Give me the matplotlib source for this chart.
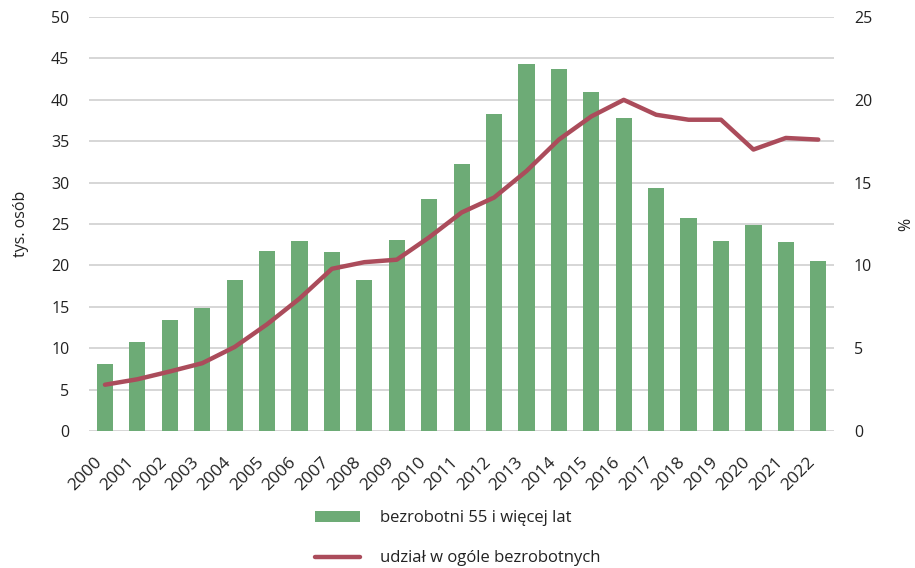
import matplotlib.pyplot as plt
import matplotlib.transforms as mtransforms
import numpy as np

plt.rcParams['font.family'] = ['Open Sans', 'DejaVu Sans']

years = [str(y) for y in range(2000, 2023)]
bezrobotni = [8.1, 10.8, 13.4, 14.9, 18.2, 21.7, 23.0, 21.6, 18.2, 23.1, 28.0,
              32.3, 38.3, 44.3, 43.7, 41.0, 37.8, 29.4, 25.7, 23.0, 24.9, 22.8, 20.5]
udzial = [2.8, 3.13, 3.6, 4.1, 5.08, 6.45, 8.0, 9.8, 10.2, 10.35, 11.7,
          13.2, 14.1, 15.7, 17.6, 19.0, 20.0, 19.1, 18.8, 18.8, 17.0, 17.7, 17.6]

green = '#6dab76'
red = '#ab4c5b'
grid_c = '#cfcfcf'
text_c = '#222222'

fig = plt.figure(figsize=(9.15, 5.68), dpi=100)
ax = fig.add_axes([0.097, 0.241, 0.815, 0.729])
ax2 = ax.twinx()

x = np.arange(len(years))
ax.bar(x, bezrobotni, width=0.5, color=green, label='bezrobotni 55 i więcej lat', zorder=2)
ax2.plot(x, udzial, color=red, lw=3.2, solid_capstyle='round',
         label='udział w ogóle bezrobotnych', zorder=3)

ax.set_xlim(-0.5, len(years) - 0.5)
ax.set_ylim(0, 50)
ax2.set_ylim(0, 25)
ax.set_yticks(range(0, 51, 5))
ax2.set_yticks(range(0, 26, 5))
ax.yaxis.grid(True, color=grid_c, lw=1.2, zorder=0)
ax.set_axisbelow(True)

ax.set_xticks(x)
ax.set_xticklabels(years, rotation=45, ha='right', fontsize=12.5)
# shift the rotated labels a little to the right, like the original
offset = mtransforms.ScaledTranslation(7 / 100, 0, fig.dpi_scale_trans)
for lab in ax.get_xticklabels():
    lab.set_transform(lab.get_transform() + offset)

for a in (ax, ax2):
    for s in a.spines.values():
        s.set_visible(False)
    a.tick_params(axis='y', length=0, labelsize=11.5, colors=text_c, pad=14)
ax.tick_params(axis='x', length=0, colors=text_c, pad=17)

ax.set_ylabel('tys. osób', fontsize=11.5, color=text_c, labelpad=16)
ax2.set_ylabel('%', fontsize=11.5, color=text_c, labelpad=19)

ax.set_zorder(ax2.get_zorder() - 1)
ax.patch.set_visible(False)
ax2.patch.set_visible(False)

h1, l1 = ax.get_legend_handles_labels()
h2, l2 = ax2.get_legend_handles_labels()
fig.legend(h1 + h2, l1 + l2, loc='upper center', bbox_to_anchor=(0.5, 0.128),
           frameon=False, fontsize=12, handlelength=2.7, labelspacing=1.45,
           handletextpad=1.2, labelcolor=text_c)

fig.savefig('out.png', dpi=100)
